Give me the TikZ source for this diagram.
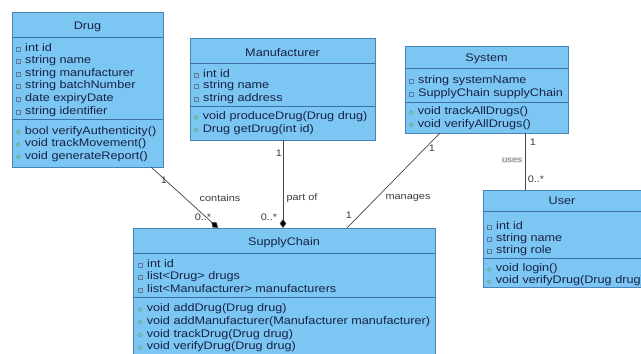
\documentclass[tikz,border=0pt]{standalone}
\usepackage{fontspec}
\setmainfont{Liberation Sans}[FakeStretch=1.15]
\usetikzlibrary{arrows.meta}

\definecolor{umlfill}{RGB}{124,198,244}
\definecolor{umlborder}{RGB}{72,132,182}
\definecolor{umlsep}{RGB}{62,112,165}
\definecolor{umltext}{RGB}{24,34,68}
\definecolor{attrmark}{RGB}{95,120,150}
\definecolor{methmark}{RGB}{70,160,120}
\definecolor{linkgray}{RGB}{70,70,70}
\definecolor{labelgray}{RGB}{60,60,60}

% visibility markers in front of members
\newcommand\amark{\tikz[baseline=0pt]\draw[draw=attrmark,line width=0.5pt,fill=umlfill] (0pt,0.3pt) rectangle (4pt,4.3pt);\hspace{4.5pt}}
\newcommand\mmark{\tikz[baseline=0pt]\draw[draw=methmark,line width=0.5pt,fill=methmark!45] (2pt,2.3pt) circle (1.8pt);\hspace{4.5pt}}

\tikzset{
  classbox/.style={draw=umlborder, fill=umlfill, line width=0.8pt, rectangle,
    inner sep=0pt, outer sep=0pt, anchor=north west},
  sepline/.style={draw=umlsep, line width=0.7pt},
  umltitle/.style={text=umltext, font=\fontsize{11}{12}\selectfont, inner sep=0pt},
  attr/.style={text=umltext, font=\fontsize{11}{12}\selectfont, inner sep=0pt, anchor=west},
  link/.style={draw=linkgray, line width=0.7pt},
  agg/.style={link, -{Diamond[length=9pt,width=6.5pt,fill=black]}},
  mult/.style={text=labelgray, font=\fontsize{9.5}{11}\selectfont, inner sep=0pt},
}

\begin{document}
\begin{tikzpicture}[x=1pt,y=-1pt]
\clip (0,0) rectangle (641,354);
\fill[white] (0,0) rectangle (641,354);

% ---------- Drug ----------
\node[classbox, minimum width=151pt, minimum height=155pt] (drug) at (12,12) {};
\node[umltitle] (drug-title) at (87.5,27) {Drug};
\draw[sepline] (12,37) -- (163,37);
\draw[sepline] (12,119) -- (163,119);
\foreach \t [count=\i] in {int id, string name, string manufacturer, string batchNumber, date expiryDate, string identifier}
  \node[attr] (drug-a\i) at (16,{48+12.7*(\i-1)}) {\amark\t};
\foreach \t [count=\i] in {bool verifyAuthenticity(), void trackMovement(), void generateReport()}
  \node[attr] (drug-m\i) at (16,{131.5+12.5*(\i-1)}) {\mmark\t};

% ---------- Manufacturer ----------
\node[classbox, minimum width=185pt, minimum height=102pt] (manu) at (190,38) {};
\node[umltitle] (manu-title) at (282.5,53) {Manufacturer};
\draw[sepline] (190,63) -- (375,63);
\draw[sepline] (190,106.5) -- (375,106.5);
\foreach \t [count=\i] in {int id, string name, string address}
  \node[attr] (manu-a\i) at (194,{73.5+12.5*(\i-1)}) {\amark\t};
\foreach \t [count=\i] in {void produceDrug(Drug drug), Drug getDrug(int id)}
  \node[attr] (manu-m\i) at (194,{117+12.5*(\i-1)}) {\mmark\t};

% ---------- System ----------
\node[classbox, minimum width=163pt, minimum height=87pt] (sys) at (405,46) {};
\node[umltitle] (sys-title) at (486.5,58.5) {System};
\draw[sepline] (405,68) -- (568,68);
\draw[sepline] (405,102) -- (568,102);
\foreach \t [count=\i] in {string systemName, SupplyChain supplyChain}
  \node[attr] (sys-a\i) at (409,{81+12.5*(\i-1)}) {\amark\t};
\foreach \t [count=\i] in {void trackAllDrugs(), void verifyAllDrugs()}
  \node[attr] (sys-m\i) at (409,{112+12.5*(\i-1)}) {\mmark\t};

% ---------- User ----------
\node[classbox, minimum width=170pt, minimum height=97pt] (user) at (483,190) {};
\node[umltitle] (user-title) at (562,200.5) {User};
\draw[sepline] (483,211) -- (653,211);
\draw[sepline] (483,258.5) -- (653,258.5);
\foreach \t [count=\i] in {int id, string name, string role}
  \node[attr] (user-a\i) at (487,{226+12.5*(\i-1)}) {\amark\t};
\foreach \t [count=\i] in {void login(), void verifyDrug(Drug drug)}
  \node[attr] (user-m\i) at (487,{269+12*(\i-1)}) {\mmark\t};

% ---------- SupplyChain ----------
\node[classbox, minimum width=302pt, minimum height=134pt] (sc) at (133,228) {};
\node[umltitle] (sc-title) at (284,243) {SupplyChain};
\draw[sepline] (133,253) -- (435,253);
\draw[sepline] (133,297) -- (435,297);
\foreach \t [count=\i] in {int id, list<Drug> drugs, list<Manufacturer> manufacturers}
  \node[attr] (sc-a\i) at (138,{264+12.5*(\i-1)}) {\amark\t};
\foreach \t [count=\i] in {void addDrug(Drug drug), void addManufacturer(Manufacturer manufacturer), void trackDrug(Drug drug), void verifyDrug(Drug drug)}
  \node[attr] (sc-m\i) at (138,{309+12.7*(\i-1)}) {\mmark\t};

% ---------- connector end points ----------
\coordinate (drug-out) at (151,167);
\coordinate (sc-in-drug) at (218,228);
\coordinate (manu-out) at (283,140);
\coordinate (sc-in-manu) at (283,228);
\coordinate (sys-out) at (440,133);
\coordinate (sc-in-sys) at (347,228);
\coordinate (sys-user) at (525,133);
\coordinate (user-in) at (525,190);

% ---------- associations ----------
\draw[agg] (drug-out) -- (sc-in-drug);
\draw[agg] (manu-out) -- (sc-in-manu);
\draw[link] (sys-out) -- (sc-in-sys);
\draw[link] (sys-user) -- (user-in);

% ---------- labels ----------
\node[mult] (l-drug-1) at (164,180) {1};
\node[mult] (l-drug-n) at (203,217) {0..*};
\node[mult] (l-contains) at (220,198) {contains};
\node[mult] (l-manu-1) at (279,153) {1};
\node[mult] (l-manu-n) at (269,217) {0..*};
\node[mult] (l-partof) at (302,198) {part of};
\node[mult] (l-sys-1) at (432,148) {1};
\node[mult] (l-sc-1) at (349,215) {1};
\node[mult] (l-manages) at (408,198) {manages};
\node[mult] (l-user-1) at (533,142) {1};
\node[mult, text=gray, fill=gray!15, inner sep=1pt, font=\fontsize{8}{9}\selectfont] (l-uses) at (512,160) {uses};
\node[mult] (l-user-n) at (536,179) {0..*};
\end{tikzpicture}
\end{document}
